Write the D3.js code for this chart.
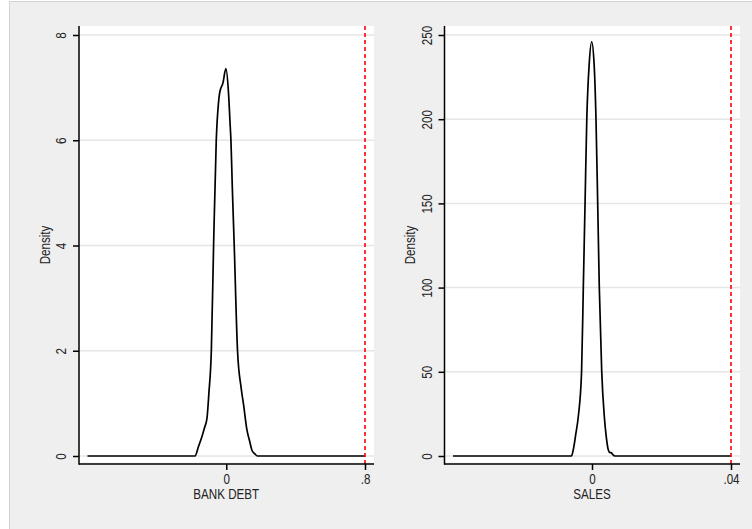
<!DOCTYPE html>
<html>
<head>
<meta charset="utf-8">
<script src="https://cdn.jsdelivr.net/npm/d3@7"></script>
<style>
  body { margin: 0; background: #fff; }
  svg { display: block; font-family: "Liberation Sans", Arial, sans-serif; }
</style>
</head>
<body>
<svg width="752" height="529"></svg>
<script>
// Kernel density, BANK DEBT
var bankDebtX = [-0.8, -0.18, -0.16, -0.14, -0.125, -0.111, -0.1, -0.086, -0.073, -0.0576, -0.045, -0.038, -0.019, -0.002, 0.013, 0.023, 0.027, 0.035, 0.046, 0.065, 0.086, 0.1, 0.119, 0.135, 0.148, 0.165, 0.18, 0.8];
var bankDebtDensity = [0, 0, 0.18, 0.37, 0.54, 0.72, 1.2, 2.0, 4.0, 6.0, 6.7, 6.9, 7.09, 7.36, 6.9, 6.26, 6.0, 5.1, 4.0, 2.0, 1.29, 0.97, 0.5, 0.28, 0.11, 0.04, 0, 0];

// Kernel density, SALES
var salesX = [-0.04, -0.0059, -0.0054, -0.0047, -0.00395, -0.003, -0.0025, -0.002, -0.0015, -0.0008, -0.0001, 0.0006, 0.00115, 0.00164, 0.0021, 0.0028, 0.00355, 0.00404, 0.0047, 0.0052, 0.0055, 0.0059, 0.0066, 0.04];
var salesDensity = [0, 0, 3.6, 12.5, 23.3, 50, 100, 150, 200, 233, 246, 233, 200, 150, 100, 50, 23.3, 12.5, 3.6, 2, 2, 1, 0, 0];

// Axis ticks and labels
var bankDebtXTicks = [0, 0.8];
var bankDebtXLabels = ["0", ".8"];
var bankDebtYTicks = [0, 2, 4, 6, 8];
var salesXTicks = [0, 0.04];
var salesXLabels = ["0", ".04"];
var salesYTicks = [0, 50, 100, 150, 200, 250];

var svg = d3.select("svg");
var squeeze = 0.83;   // the original font is a narrow one

// outer gray background
svg.append("rect")
    .attr("x", 9.5).attr("y", 1.5)
    .attr("width", 760).attr("height", 540)
    .attr("fill", "#efefef")
    .attr("stroke", "#d2d2d2");

var plotTop = 26, plotBottom = 464;

function drawPanel(opt) {
  var g = svg.append("g");
  var left = opt.left, right = opt.right;

  var x = d3.scaleLinear()
            .domain([opt.xData[0], opt.xData[opt.xData.length - 1]])
            .range([left + 8.5, right - 9]);
  var y = d3.scaleLinear()
            .domain([0, opt.yTicks[opt.yTicks.length - 1]])
            .range([456, 35]);

  // white plot region
  g.append("rect")
      .attr("x", left).attr("y", plotTop)
      .attr("width", right - left).attr("height", plotBottom - plotTop - 1.5)
      .attr("fill", "#fff");

  // gridlines
  g.selectAll(".grid")
    .data(opt.yTicks)
    .enter()
    .append("line")
      .attr("x1", left).attr("x2", right)
      .attr("y1", d => y(d)).attr("y2", d => y(d))
      .attr("stroke", "#e6e6e6")
      .attr("stroke-width", 1.5);

  // density curve
  var line = d3.line()
               .x((d, i) => x(opt.xData[i]))
               .y(d => y(d))
               .curve(d3.curveMonotoneX);
  g.append("path")
      .datum(opt.density)
      .attr("d", line)
      .attr("fill", "none")
      .attr("stroke", "#000")
      .attr("stroke-width", 1.7)
      .attr("stroke-linejoin", "round");

  // dashed reference line at the top x tick
  var xRef = opt.xTicks[opt.xTicks.length - 1];
  g.append("line")
      .attr("x1", x(xRef)).attr("x2", x(xRef))
      .attr("y1", plotTop).attr("y2", plotBottom)
      .attr("stroke", "#ff0000")
      .attr("stroke-width", 1.6)
      .attr("stroke-dasharray", "4,3");

  // y axis
  var yAxis = d3.axisLeft(y)
                .tickValues(opt.yTicks)
                .tickFormat(d3.format("d"))
                .tickSize(6)
                .tickSizeOuter(0);
  var ya = g.append("g")
      .attr("transform", "translate(" + left + ",0)")
      .call(yAxis);
  ya.select(".domain").remove();
  ya.selectAll("line").attr("stroke-width", 1.5);
  ya.selectAll("text")
      .attr("x", 0).attr("y", 0).attr("dy", null)
      .attr("transform", "translate(-13,0) rotate(-90) scale(" + squeeze + ",1)")
      .style("text-anchor", "middle")
      .style("font-size", "14px")
      .attr("fill", "#222");

  // x axis
  var xAxis = d3.axisBottom(x)
                .tickValues(opt.xTicks)
                .tickFormat((d, i) => opt.xLabels[i])
                .tickSize(6)
                .tickSizeOuter(0);
  var xa = g.append("g")
      .attr("transform", "translate(0," + plotBottom + ")")
      .call(xAxis);
  xa.select(".domain").remove();
  xa.selectAll("line").attr("stroke-width", 1.5);
  xa.selectAll("text")
      .attr("x", 0).attr("y", 0).attr("dy", null)
      .attr("transform", "translate(0,19.5) scale(" + squeeze + ",1)")
      .style("font-size", "14px")
      .attr("fill", "#222");

  // axis lines
  g.append("line")
      .attr("x1", left).attr("x2", left)
      .attr("y1", plotTop).attr("y2", plotBottom + 0.75)
      .attr("stroke", "#000").attr("stroke-width", 1.5);
  g.append("line")
      .attr("x1", left).attr("x2", right)
      .attr("y1", plotBottom).attr("y2", plotBottom)
      .attr("stroke", "#000").attr("stroke-width", 1.5);

  // axis titles
  g.append("text")
      .attr("transform", "translate(" + (left - 29.5) + "," + ((plotTop + plotBottom) / 2) + ") rotate(-90) scale(" + squeeze + ",1)")
      .style("text-anchor", "middle")
      .style("font-size", "14px")
      .attr("fill", "#222")
      .text("Density");
  g.append("text")
      .attr("transform", "translate(" + x(0) + ",498.5) scale(" + squeeze + ",1)")
      .style("text-anchor", "middle")
      .style("font-size", "14px")
      .attr("fill", "#222")
      .text(opt.title);
}

drawPanel({ left: 79, right: 374, xData: bankDebtX, density: bankDebtDensity,
            xTicks: bankDebtXTicks, xLabels: bankDebtXLabels, yTicks: bankDebtYTicks, title: "BANK DEBT" });
drawPanel({ left: 444.5, right: 740, xData: salesX, density: salesDensity,
            xTicks: salesXTicks, xLabels: salesXLabels, yTicks: salesYTicks, title: "SALES" });
</script>
</body>
</html>
